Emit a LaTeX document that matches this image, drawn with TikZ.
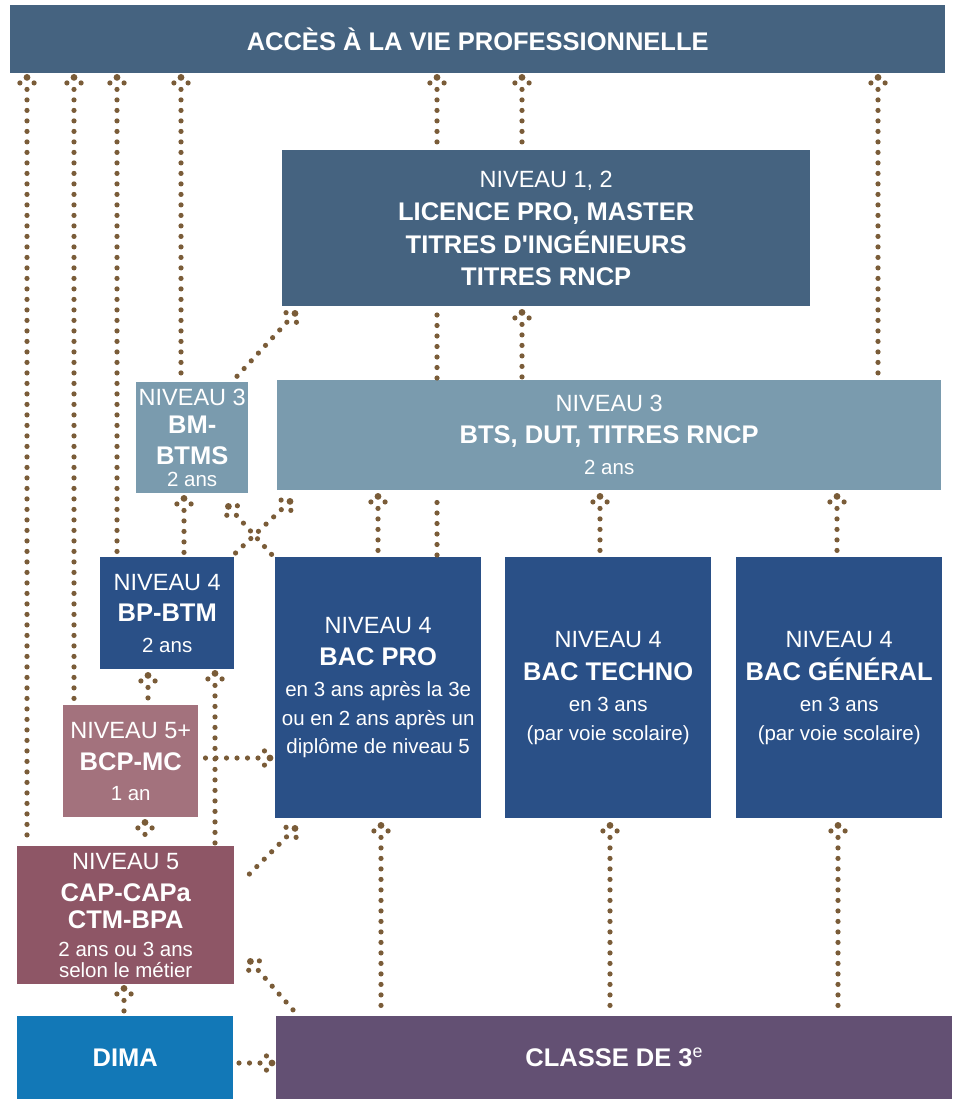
\documentclass[tikz,border=0pt]{standalone}
\usepackage{fontspec}
\setmainfont{Liberation Sans}[Ligatures=TeXOff]
\usetikzlibrary{calc}
\definecolor{cslate}{RGB}{69,99,128}
\definecolor{clight}{RGB}{122,155,174}
\definecolor{cnavy}{RGB}{42,80,135}
\definecolor{crose}{RGB}{163,114,125}
\definecolor{cwine}{RGB}{142,86,102}
\definecolor{cdima}{RGB}{18,120,183}
\definecolor{cpurple}{RGB}{99,80,115}
\definecolor{cdot}{RGB}{122,92,56}
\newcommand\txtreg{\fontsize{23.5}{32}\selectfont}
\newcommand\txthead{\fontsize{25.5}{32}\selectfont\bfseries}
\newcommand\txtsmall{\fontsize{20.5}{29}\selectfont}
\tikzset{
  box/.style={rectangle, inner sep=0pt, anchor=north west, text=white, align=center, font=\txtreg},
  dline/.style={draw=cdot, line width=5.2pt, line cap=round, dash pattern=on 0pt off 10.5pt},
  darm/.style={draw=cdot, line width=5.2pt, line cap=round, dash pattern=on 0pt off 9pt},
}
\newcommand\darrow[2]{%
  \coordinate (ds) at #1;
  \coordinate (dt) at #2;
  \draw[dline, shorten <=12pt] (dt) -- (ds);
  \draw[darm] (dt) -- ($(dt)!18pt!52:(ds)$);
  \draw[darm] (dt) -- ($(dt)!18pt!-52:(ds)$);
  \fill[cdot] (dt) circle (3.4pt);
}
\begin{document}
\begin{tikzpicture}[x=1pt,y=-1pt]
\useasboundingbox (0,0) rectangle (957,1099);
% boxes
\node[box, fill=cslate, minimum width=935pt, minimum height=68pt] (top) at (10,5) {\txthead ACCÈS À LA VIE PROFESSIONNELLE};
\node[box, fill=cslate, minimum width=528pt, minimum height=156pt] (n1) at (282,150)
  {NIVEAU 1, 2\\[1pt]{\txthead LICENCE PRO, MASTER}\\[1pt]{\txthead TITRES D'INGÉNIEURS}\\[0pt]{\txthead TITRES RNCP}};
\node[box, fill=clight, minimum width=664pt, minimum height=110pt] (bts) at (277,380)
  {NIVEAU 3\\[0pt]{\txthead BTS, DUT, TITRES RNCP}\\[-1pt]{\txtsmall 2 ans}};
\node[box, fill=clight, minimum width=112pt, minimum height=111pt] (bm) at (136,382)
  {NIVEAU 3\\[-4pt]{\txthead BM-}\\[-1pt]{\txthead BTMS}\\[-10pt]{\txtsmall 2 ans}};
\node[box, fill=cnavy, minimum width=134pt, minimum height=112pt] (bp) at (100,557)
  {NIVEAU 4\\[-1pt]{\txthead BP-BTM}\\[-1pt]{\txtsmall 2 ans}};
\node[box, fill=cnavy, minimum width=206pt, minimum height=261pt] (bacpro) at (275,557)
  {NIVEAU 4\\[0pt]{\txthead BAC PRO}\\[-1pt]{\txtsmall en 3 ans après la 3e}\\[-3pt]{\txtsmall ou en 2 ans après un}\\[-4pt]{\txtsmall diplôme de niveau 5}};
\node[box, fill=cnavy, minimum width=206pt, minimum height=261pt] (techno) at (505,557)
  {NIVEAU 4\\[1pt]{\txthead BAC TECHNO}\\[-1pt]{\txtsmall en 3 ans}\\[-3pt]{\txtsmall (par voie scolaire)}};
\node[box, fill=cnavy, minimum width=206pt, minimum height=261pt] (gen) at (736,557)
  {NIVEAU 4\\[1pt]{\txthead BAC GÉNÉRAL}\\[-1pt]{\txtsmall en 3 ans}\\[-3pt]{\txtsmall (par voie scolaire)}};
\node[box, fill=crose, minimum width=135pt, minimum height=112pt] (bcp) at (63,705)
  {NIVEAU 5+\\[0pt]{\txthead BCP-MC}\\[-2pt]{\txtsmall 1 an}};
\node[box, fill=cwine, minimum width=217pt, minimum height=138pt] (cap) at (17,846)
  {NIVEAU 5\\[0pt]{\txthead CAP-CAPa}\\[-5pt]{\txthead CTM-BPA}\\[-4pt]{\txtsmall 2 ans ou 3 ans}\\[-11pt]{\txtsmall selon le métier}};
\node[box, fill=cdima, minimum width=216pt, minimum height=83pt] (dima) at (17,1016) {\txthead DIMA};
\node[box, fill=cpurple, minimum width=676pt, minimum height=83pt] (classe) at (276,1016) {\txthead CLASSE DE 3\textsuperscript{\mdseries e}};
% arrows to the top banner
\darrow{($(cap.north west)+(10,-2)$)}{($(top.south west)+(17,4)$)}
\darrow{($(bcp.north west)+(11,-2)$)}{($(top.south west)+(64,4)$)}
\darrow{($(bp.north west)+(17,-2)$)}{($(top.south west)+(107,4)$)}
\darrow{($(bm.north west)+(45,-2)$)}{($(top.south west)+(171,4)$)}
\darrow{($(n1.north west)+(155,-2)$)}{($(top.south west)+(427,4)$)}
\darrow{($(n1.north west)+(240,-2)$)}{($(top.south west)+(512,4)$)}
\darrow{($(bts.north west)+(601,-2)$)}{($(top.south west)+(868,4)$)}
% into niveau 1,2
\darrow{($(bts.north west)+(245,-2)$)}{($(n1.south west)+(240,6)$)}
\draw[dline] ($(bts.north west)+(160,-2)$) -- ($(n1.south west)+(155,2)$);
\draw[dline] ($(bacpro.north west)+(162,-2)$) -- ($(bts.south west)+(160,2)$);
\darrow{($(bm.north east)+(-13,-4)$)}{($(n1.south west)+(13,7)$)}
% into niveau 3 BTS
\darrow{($(bacpro.north west)+(103,-2)$)}{($(bts.south west)+(101,6)$)}
\darrow{($(techno.north west)+(95,-2)$)}{($(bts.south west)+(323,6)$)}
\darrow{($(gen.north west)+(101,-2)$)}{($(bts.south west)+(560,6)$)}
\darrow{($(bp.north east)+(-2,-1)$)}{($(bts.south west)+(13,11)$)}
% into BM-BTMS
\darrow{($(bp.north west)+(84,-2)$)}{($(bm.south west)+(48,5)$)}
\darrow{($(bacpro.north west)+(-2,-1)$)}{($(bm.south east)+(-20,13)$)}
% into BP-BTM
\darrow{($(bcp.north west)+(85,-2)$)}{($(bp.south west)+(48,6)$)}
\darrow{($(cap.north west)+(198,-2)$)}{($(bp.south west)+(115,4)$)}
% BCP-MC to BAC PRO
\darrow{($(bcp.north east)+(5,53)$)}{($(bacpro.north west)+(-5,201)$)}
% into BCP-MC
\darrow{($(cap.north west)+(128,-2)$)}{($(bcp.south west)+(82,5)$)}
% into the BAC boxes
\darrow{($(cap.north east)+(9,34)$)}{($(bacpro.south west)+(20,10)$)}
\darrow{($(classe.north west)+(105,-2)$)}{($(bacpro.south west)+(106,7)$)}
\darrow{($(classe.north west)+(334,-2)$)}{($(techno.south west)+(105,7)$)}
\darrow{($(classe.north west)+(562,-2)$)}{($(gen.south west)+(102,7)$)}
% into CAP
\darrow{($(dima.north west)+(107,-2)$)}{($(cap.south west)+(107,4)$)}
\darrow{($(classe.north west)+(18,-5)$)}{($(cap.south east)+(16,-23)$)}
% DIMA to classe
\darrow{($(dima.north east)+(3,47)$)}{($(classe.north west)+(-4,47)$)}
\end{tikzpicture}
\end{document}
